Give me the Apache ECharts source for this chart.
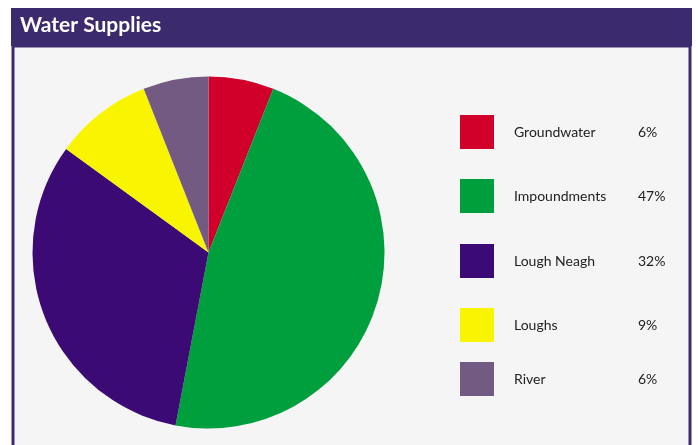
<!DOCTYPE html>
<html>
<head>
<meta charset="utf-8">
<script src="https://cdn.jsdelivr.net/npm/echarts@6/dist/echarts.min.js"></script>
<style>
  html, body { margin: 0; padding: 0; background: #ffffff; }
  #chart { width: 698px; height: 445px; }
</style>
</head>
<body>
<div id="chart"></div>
<script>
// Water supply sources and their share (%)
const sources = ['Groundwater', 'Impoundments', 'Lough Neagh', 'Loughs', 'River'];
const shares = [6, 47, 32, 9, 6];
const colors = ['#d0002a', '#009f3d', '#3b0a74', '#f9f500', '#725a82'];

// vertical placement of each legend row
const legendTops = [115, 179, 244, 308, 362];

const purple = '#3c2a6e';
const font = 'Lato, "Open Sans", sans-serif';

const chart = echarts.init(document.getElementById('chart'), null, { renderer: 'canvas' });

const legends = sources.map((name, i) => ({
  data: [name],
  left: 460,
  top: legendTops[i],
  padding: 0,
  orient: 'vertical',
  icon: 'rect',
  itemWidth: 34,
  itemHeight: 34,
  selectedMode: false,
  formatter: n => `{n|${n}}{v|${shares[i]}%}`,
  textStyle: {
    padding: [0, 0, 0, 15],
    fontFamily: font,
    fontSize: 14,
    color: '#222222',
    rich: {
      n: { width: 124, fontFamily: font, fontSize: 14, color: '#222222' },
      v: { fontFamily: font, fontSize: 14, color: '#222222' }
    }
  }
}));

chart.setOption({
  animation: false,
  color: colors,
  graphic: [
    { type: 'rect', z: -10, shape: { x: 13, y: 46, width: 677, height: 402 },
      style: { fill: '#f5f5f5', stroke: purple, lineWidth: 3 } },
    { type: 'rect', z: -9, shape: { x: 11, y: 8, width: 681, height: 38 },
      style: { fill: purple } }
  ],
  title: {
    text: 'Water Supplies',
    left: 20,
    top: 15,
    padding: 0,
    textStyle: { color: '#ffffff', fontFamily: font, fontWeight: 'bold', fontSize: 21 }
  },
  legend: legends,
  series: [{
    type: 'pie',
    center: [208.5, 252.5],
    radius: 176,
    startAngle: 90,
    clockwise: true,
    label: { show: false },
    labelLine: { show: false },
    emphasis: { disabled: true },
    itemStyle: { borderWidth: 0 },
    data: sources.map((name, i) => ({ name, value: shares[i] }))
  }]
});
</script>
</body>
</html>
